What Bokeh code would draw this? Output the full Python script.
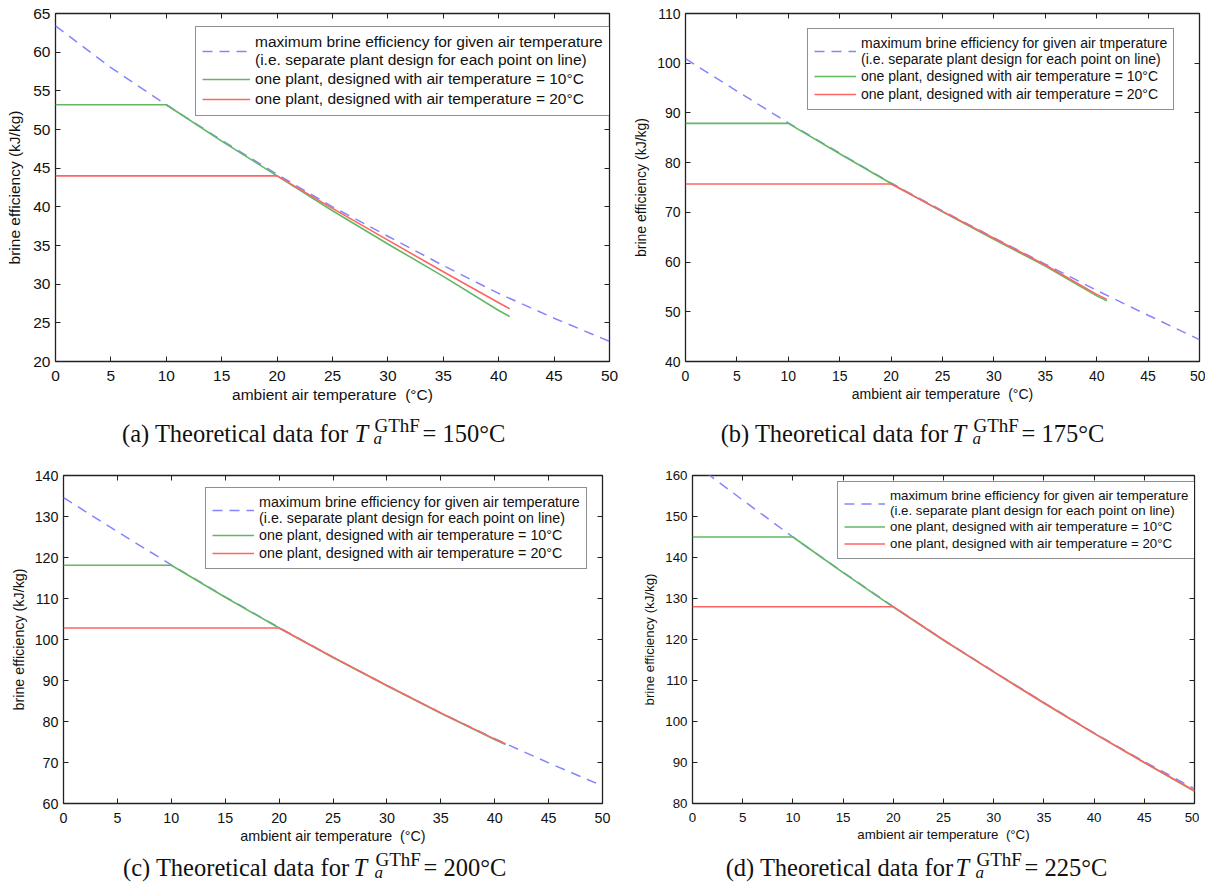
from bokeh.plotting import figure
from bokeh.models import (Range1d, LinearAxis, FixedTicker, Label, Legend, LegendItem,
                          CustomLabelingPolicy)
from bokeh.layouts import column, row
from bokeh.embed import file_html
from bokeh.resources import INLINE

# ---------------- data ----------------
x_max = [0, 5, 10, 15, 20, 25, 30, 35, 40, 45, 50]
x_des10 = [0, 10, 15, 20, 25, 30, 35, 40, 41]
x_des20 = [0, 20, 25, 30, 35, 40, 41]
x_des10_d = [0, 10, 15, 20, 25, 30, 35, 40, 45, 50]
x_des20_d = [0, 20, 25, 30, 35, 40, 45, 50]

a_max = [63.4, 58.0, 53.2, 48.6, 44.2, 40.0, 36.2, 32.4, 28.8, 25.6, 22.6]
a_des10 = [53.2, 53.2, 48.5, 44.0, 39.5, 35.2, 31.0, 26.6, 25.8]
a_des20 = [44.0, 44.0, 39.8, 35.7, 31.6, 27.6, 26.8]

b_max = [100.9, 94.4, 88.0, 81.9, 75.9, 70.3, 64.9, 59.6, 54.3, 49.3, 44.4]
b_des10 = [87.9, 87.9, 81.8, 75.8, 70.1, 64.6, 59.2, 53.2, 52.2]
b_des20 = [75.7, 75.7, 70.2, 64.8, 59.4, 53.5, 52.5]

c_max = [134.6, 126.3, 118.2, 110.4, 102.9, 95.7, 88.8, 82.1, 75.8, 69.9, 64.3]
c_des10 = [118.1, 118.1, 110.3, 102.8, 95.6, 88.7, 82.0, 75.6, 74.4]
c_des20 = [102.8, 102.8, 95.7, 88.8, 82.1, 75.7, 74.6]

d_max = [163.2, 154.0, 145.0, 136.4, 128.0, 119.9, 112.2, 104.6, 97.2, 90.2, 83.6]
d_des10 = [145.0, 145.0, 136.3, 127.9, 119.8, 112.1, 104.5, 97.1, 90.0, 83.0]
d_des20 = [128.0, 128.0, 119.9, 112.1, 104.5, 97.1, 90.0, 83.1]

x_ticks = [0, 5, 10, 15, 20, 25, 30, 35, 40, 45, 50]
a_ticks = [20, 25, 30, 35, 40, 45, 50, 55, 60, 65]
b_ticks = [40, 50, 60, 70, 80, 90, 100, 110]
c_ticks = [60, 70, 80, 90, 100, 110, 120, 130, 140]
d_ticks = [80, 90, 100, 110, 120, 130, 140, 150, 160]

label_max_a = "maximum brine efficiency for given air temperature\n(i.e. separate plant design for each point on line)"
label_max_b = "maximum brine efficiency for given air tmperature\n(i.e. separate plant design for each point on line)"
label_10 = "one plant, designed with air temperature = 10°C"
label_20 = "one plant, designed with air temperature = 20°C"
x_title = "ambient air temperature \u00a0(°C)"
y_title = "brine efficiency (kJ/kg)"

cap_letters = ["a", "b", "c", "d"]
cap_temps = [150, 175, 200, 225]

C_MAX = "#8484ff"
C_10 = "#62b862"
C_20 = "#ff6464"
FRAME = "#222222"
SANS = "Liberation Sans"
SERIF = "Liberation Serif"

HIDE = "try { for (const i of Array.from(indices)) { indices.unset(i) } } catch (e) {} return indices"


def style_axis(ax, ticks, fs, show):
    ax.ticker = FixedTicker(ticks=ticks)
    ax.axis_line_color = None
    ax.major_tick_in = 5
    ax.major_tick_out = 0
    ax.major_tick_line_color = FRAME
    ax.major_tick_line_width = 1
    ax.minor_tick_line_color = None
    ax.major_label_text_font = SANS
    ax.major_label_text_color = "#111111"
    if show:
        ax.major_label_text_font_size = f"{fs}px"
    else:
        ax.major_label_text_font_size = "1px"
        ax.major_label_text_alpha = 0
        ax.major_label_standoff = 0
        ax.major_label_policy = CustomLabelingPolicy(code=HIDE)


def make_panel(w, h, borders, yr, yticks, fs, series, max_label, leg, ylab_stand):
    ml, mr, mt, mb = borders
    p = figure(width=w, height=h, x_range=Range1d(0, 50), y_range=Range1d(*yr),
               output_backend="svg", toolbar_location=None,
               min_border_left=ml, min_border_right=mr,
               min_border_top=mt, min_border_bottom=mb)
    p.grid.visible = False
    p.outline_line_color = FRAME
    p.outline_line_width = 1.3
    p.background_fill_color = "white"
    p.border_fill_color = "white"

    xa = p.xaxis[0]
    style_axis(xa, x_ticks, fs, True)
    xa.major_label_standoff = 9
    xa.axis_label = x_title
    xa.axis_label_text_font = SANS
    xa.axis_label_text_font_size = f"{fs}px"
    xa.axis_label_text_font_style = "normal"
    xa.axis_label_text_color = "#111111"
    xa.axis_label_standoff = 2

    ya = p.yaxis[0]
    style_axis(ya, yticks, fs, True)
    ya.major_label_standoff = 5
    ya.axis_label = y_title
    ya.axis_label_text_font = SANS
    ya.axis_label_text_font_size = f"{fs}px"
    ya.axis_label_text_font_style = "normal"
    ya.axis_label_text_color = "#111111"
    ya.axis_label_standoff = ylab_stand

    top = LinearAxis()
    style_axis(top, x_ticks, fs, False)
    p.add_layout(top, "above")
    right = LinearAxis()
    style_axis(right, yticks, fs, False)
    p.add_layout(right, "right")

    (xm, ym), (x1, y1), (x2, y2) = series
    r_max = p.line(xm, ym, line_color=C_MAX, line_width=1.5, line_dash="10 7")
    r10 = p.line(x1, y1, line_color=C_10, line_width=1.6)
    r20 = p.line(x2, y2, line_color=C_20, line_width=1.6)

    lx, ly, lfs, gw, gh, pad = leg
    legend = Legend(items=[LegendItem(label=max_label, renderers=[r_max]),
                           LegendItem(label=label_10, renderers=[r10]),
                           LegendItem(label=label_20, renderers=[r20])],
                    location=(lx, ly))
    legend.label_text_font = SANS
    legend.label_text_font_size = f"{lfs}px"
    legend.label_text_line_height = 1.2
    legend.label_text_color = "#111111"
    legend.glyph_width = gw
    legend.glyph_height = gh
    legend.label_height = gh
    legend.label_standoff = 5
    legend.padding = pad
    legend.spacing = 0
    legend.margin = 0
    legend.border_line_color = FRAME
    legend.border_line_width = 1.3
    legend.background_fill_color = "white"
    legend.background_fill_alpha = 1.0
    p.add_layout(legend)
    return p


def make_caption(w, h, idx, part_end, t_x, sup_x, base):
    c = figure(width=w, height=h, x_range=Range1d(0, w), y_range=Range1d(0, h),
               output_backend="svg", toolbar_location=None,
               x_axis_location=None, y_axis_location=None, min_border=0)
    c.grid.visible = False
    c.outline_line_color = None
    c.background_fill_color = "white"
    c.border_fill_color = "white"
    common = dict(text_font=SERIF, text_color="#111111", text_baseline="alphabetic")
    c.add_layout(Label(x=part_end, y=base, text=f"({cap_letters[idx]}) Theoretical data for",
                       text_align="right", text_font_size="24.5px", **common))
    c.add_layout(Label(x=t_x, y=base, text="T", text_align="left",
                       text_font_size="24.5px", text_font_style="italic", **common))
    c.add_layout(Label(x=sup_x - 1, y=base - 5, text="a", text_align="left",
                       text_font_size="17px", text_font_style="italic", **common))
    c.add_layout(Label(x=sup_x, y=base + 8, text="GThF", text_align="left",
                       text_font_size="19px", **common))
    c.add_layout(Label(x=sup_x + 48, y=base, text=f"= {cap_temps[idx]}°C", text_align="left",
                       text_font_size="24.5px", **common))
    return c


pa = make_panel(630, 405, (55, 21, 13, 44), (20, 65), a_ticks, 15.5,
                [(x_max, a_max), (x_des10, a_des10), (x_des20, a_des20)], label_max_a,
                (140, 245, 15.5, 48, 20, 6), 7)
pb = make_panel(575, 405, (55, 6, 13, 42), (40, 110), b_ticks, 14,
                [(x_max, b_max), (x_des10, b_des10), (x_des20, b_des20)], label_max_b,
                (122, 251, 14, 42, 18, 6), 5)
pc = make_panel(630, 398, (63, 28, 25, 45), (60, 140), c_ticks, 14.3,
                [(x_max, c_max), (x_des10, c_des10), (x_des20, c_des20)], label_max_a,
                (142, 234, 14.3, 42, 18, 6), 5)
pd = make_panel(569, 398, (62, 5, 21, 42), (80, 160), d_ticks, 13.3,
                [(x_max, d_max), (x_des10_d, d_des10), (x_des20_d, d_des20)], label_max_a,
                (145, 244, 13.3, 41, 17, 6), 5)

ca = make_caption(630, 45, 0, 348, 354, 374, 17)
cb = make_caption(575, 45, 1, 318, 322, 343, 17)
cc = make_caption(630, 34, 2, 349, 353, 375, 15)
cd = make_caption(569, 34, 3, 323, 325, 346, 15)

layout = column(row(pa, pb), row(ca, cb), row(pc, pd), row(cc, cd))
open("out.html", "w").write(file_html(layout, INLINE))
